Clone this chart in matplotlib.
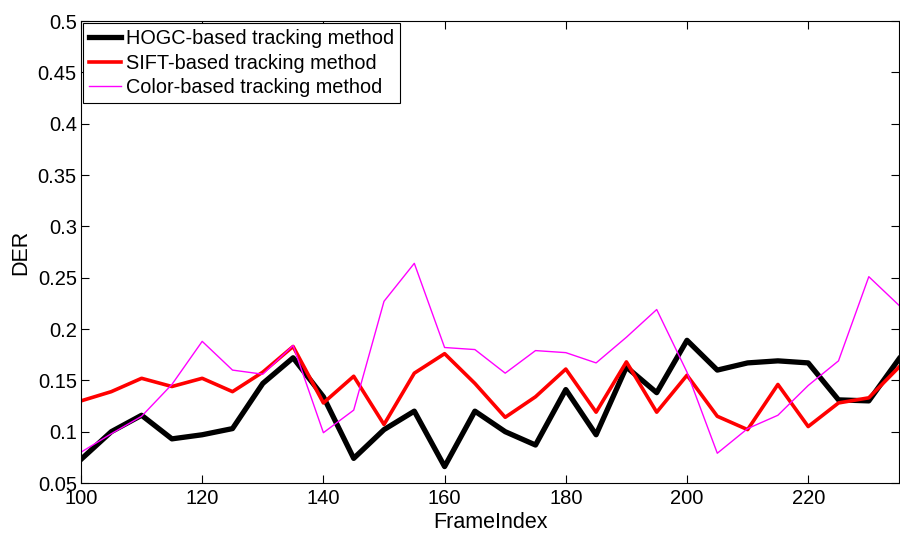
import matplotlib
matplotlib.use('Agg')
import matplotlib.pyplot as plt

plt.rcParams['font.family'] = ['Liberation Sans', 'DejaVu Sans']

frames = list(range(100, 240, 5))
hogc = [0.073, 0.100, 0.116, 0.093, 0.097, 0.103, 0.147, 0.172, 0.134, 0.074,
        0.102, 0.120, 0.066, 0.120, 0.100, 0.087, 0.141, 0.097, 0.163, 0.138,
        0.189, 0.160, 0.167, 0.169, 0.167, 0.131, 0.130, 0.171]
sift = [0.130, 0.139, 0.152, 0.144, 0.152, 0.139, 0.158, 0.183, 0.128, 0.154,
        0.107, 0.157, 0.176, 0.147, 0.114, 0.134, 0.161, 0.119, 0.168, 0.119,
        0.155, 0.115, 0.102, 0.146, 0.105, 0.128, 0.133, 0.163]
color = [0.080, 0.098, 0.115, 0.146, 0.188, 0.160, 0.156, 0.184, 0.099, 0.121,
         0.227, 0.264, 0.182, 0.180, 0.157, 0.179, 0.177, 0.167, 0.192, 0.219,
         0.158, 0.079, 0.103, 0.116, 0.145, 0.169, 0.251, 0.223]

fig = plt.figure(figsize=(9, 5.34), dpi=100)
ax = fig.add_axes([0.09, 0.0955, 0.909, 0.865])

ax.plot(frames, hogc, color='black', lw=3.8, label='HOGC-based tracking method')
ax.plot(frames, sift, color='red', lw=2.6, label='SIFT-based tracking method')
ax.plot(frames, color, color='magenta', lw=1.0, label='Color-based tracking method')

ax.set_xlim(100, 235)
ax.set_ylim(0.05, 0.5)
ax.set_xticks(range(100, 240, 20))
ax.set_yticks([0.05, 0.1, 0.15, 0.2, 0.25, 0.3, 0.35, 0.4, 0.45, 0.5])
ax.set_yticklabels(['0.05', '0.1', '0.15', '0.2', '0.25', '0.3', '0.35', '0.4', '0.45', '0.5'])
ax.tick_params(direction='in', top=True, right=True, labelsize=14.5, length=6, width=0.8)
ax.tick_params(axis='x', pad=4)
ax.tick_params(axis='y', pad=3)
for s in ax.spines.values():
    s.set_linewidth(0.8)

ax.set_xlabel('FrameIndex', fontsize=15.5, labelpad=3)
ax.set_ylabel('DER', fontsize=15.5, labelpad=5)

leg = ax.legend(loc='upper left', fontsize=14.3, handlelength=1.6, handletextpad=0.25,
                borderaxespad=0.1, borderpad=0.3, labelspacing=0.28, fancybox=False,
                framealpha=1)
leg.get_frame().set_edgecolor('black')
leg.get_frame().set_linewidth(0.8)

fig.savefig('out.png', dpi=100)
